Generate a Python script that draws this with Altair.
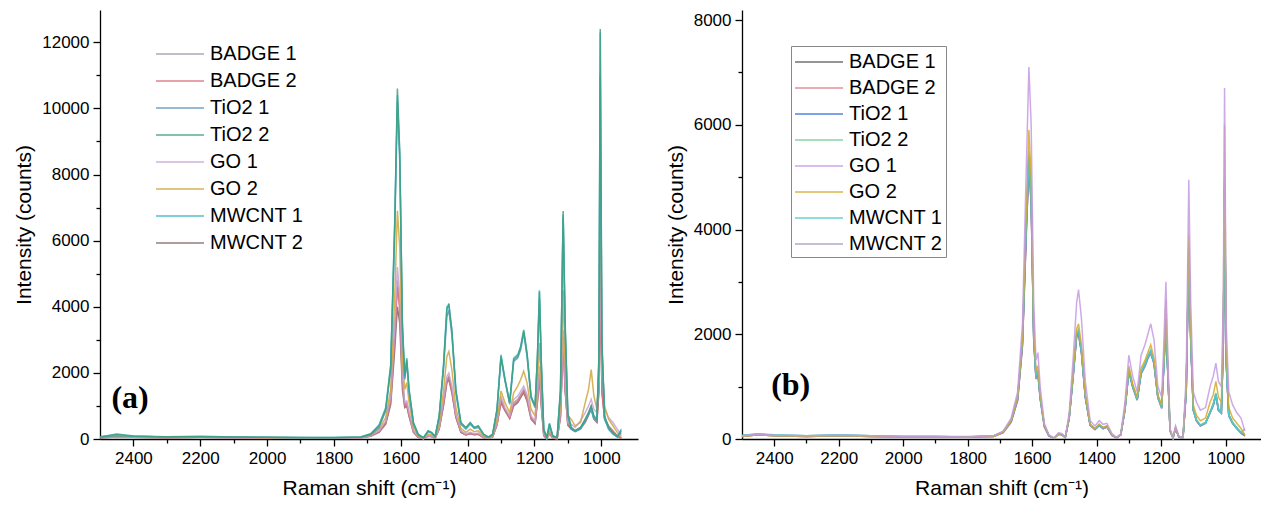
import altair as alt
import pandas as pd

# Raman shift grid (cm-1), descending
SHIFT = [
    2500, 2450, 2400, 2300, 2200, 2100, 2000, 1900, 1800, 1720,
    1690, 1665, 1645, 1630, 1618, 1610, 1603, 1595, 1588, 1582,
    1575, 1562, 1548, 1532, 1518, 1508, 1497, 1485, 1472, 1462,
    1456, 1447, 1435, 1420, 1405, 1392, 1380, 1368, 1352, 1338,
    1325, 1312, 1300, 1288, 1274, 1262, 1250, 1241, 1232, 1222,
    1210, 1198, 1191, 1185, 1179, 1172, 1163, 1155, 1145, 1132,
    1122, 1114, 1108, 1100, 1090, 1078, 1062, 1048, 1038, 1030,
    1022, 1013, 1007, 1003, 998, 990, 978, 965, 952, 940,
]

SERIES = ["BADGE 1", "BADGE 2", "TiO2 1", "TiO2 2", "GO 1", "GO 2", "MWCNT 1", "MWCNT 2"]

# ---------------- panel (a) ----------------
A_BADGE_1 = [40, 60, 50, 40, 50, 40, 30, 30, 30, 40,
             90, 230, 500, 1200, 3200, 4800, 4100, 1800, 1050, 1100,
             750, 230, 60, 10, 90, 80, 30, 320, 1100, 1800,
             1900, 1500, 700, 220, 130, 180, 140, 160, 50, 20,
             70, 450, 1200, 900, 650, 1100, 1200, 1350, 1500, 1250,
             650, 500, 1200, 2000, 1050, 120, 10, 180, 30, 10,
             700, 3000, 1500, 450, 350, 250, 350, 550, 800, 1000,
             650, 550, 1500, 5000, 1500, 650, 400, 250, 100, 20]
A_BADGE_2 = [40, 60, 50, 40, 50, 40, 30, 30, 30, 40,
             90, 220, 480, 1150, 3000, 4600, 3900, 1700, 1000, 1050,
             700, 220, 60, 10, 90, 80, 30, 300, 1050, 1750,
             1850, 1450, 680, 210, 120, 170, 130, 150, 50, 20,
             70, 430, 1150, 880, 630, 1050, 1150, 1300, 1450, 1200,
             620, 480, 1150, 1950, 1000, 110, 10, 170, 30, 10,
             680, 2900, 1450, 430, 330, 240, 330, 520, 750, 950,
             620, 520, 1400, 4600, 1400, 620, 380, 230, 90, 20]
A_TIO2_1 = [50, 100, 80, 60, 70, 50, 50, 40, 40, 50,
            130, 350, 850, 2100, 6200, 10200, 8400, 3300, 1800, 2300,
            1400, 450, 120, 30, 220, 180, 70, 650, 2100, 3700,
            3900, 3150, 1400, 450, 300, 450, 320, 350, 130, 50,
            130, 850, 2450, 1750, 1050, 2350, 2450, 2700, 3200, 2500,
            1250, 950, 2400, 4250, 2100, 250, 40, 400, 80, 40,
            1400, 6700, 3300, 700, 300, 220, 300, 550, 750, 950,
            650, 550, 2300, 11000, 2800, 650, 300, 150, 60, 200]
A_TIO2_2 = [60, 150, 90, 70, 80, 60, 50, 50, 40, 60,
            150, 400, 900, 2200, 6500, 10600, 8700, 3500, 1900, 2400,
            1500, 500, 150, 40, 250, 200, 80, 700, 2200, 3900,
            4100, 3300, 1500, 500, 350, 500, 350, 400, 150, 60,
            150, 900, 2500, 1800, 1100, 2400, 2500, 2800, 3300, 2600,
            1300, 1000, 2500, 4450, 2200, 300, 50, 450, 100, 50,
            1500, 6900, 3500, 800, 350, 250, 350, 600, 800, 1000,
            700, 600, 2500, 12400, 3000, 700, 350, 200, 80, 250]
A_GO_1 = [50, 70, 60, 50, 50, 40, 40, 40, 30, 40,
          100, 250, 550, 1300, 3400, 5200, 4400, 1900, 1100, 1150,
          800, 250, 70, 10, 100, 90, 30, 350, 1200, 1900,
          2000, 1600, 750, 250, 150, 200, 160, 180, 60, 20,
          80, 500, 1300, 950, 700, 1200, 1300, 1450, 1600, 1350,
          700, 550, 1300, 2200, 1150, 150, 20, 200, 40, 20,
          800, 3300, 1700, 500, 450, 350, 550, 800, 1000, 1200,
          900, 800, 1800, 6000, 2000, 900, 650, 500, 300, 100]
A_GO_2 = [50, 80, 60, 50, 60, 50, 40, 40, 40, 50,
          120, 300, 650, 1500, 4300, 6900, 5800, 2400, 1500, 1700,
          1100, 350, 100, 20, 150, 120, 50, 450, 1450, 2500,
          2650, 2100, 950, 320, 200, 300, 220, 250, 90, 30,
          100, 600, 1450, 1100, 800, 1400, 1600, 1800, 2050, 1700,
          900, 700, 1700, 2900, 1500, 200, 30, 250, 60, 30,
          1000, 4500, 2300, 700, 600, 400, 500, 1100, 1500, 2100,
          1300, 900, 2000, 9200, 2500, 1000, 600, 400, 200, 50]
A_MWCNT_1 = [70, 130, 80, 60, 70, 60, 50, 40, 50, 60,
             160, 420, 950, 2250, 6600, 10400, 8600, 3400, 1850, 2450,
             1450, 480, 140, 40, 240, 190, 80, 690, 2250, 4000,
             4050, 3250, 1450, 480, 330, 480, 340, 380, 140, 60,
             140, 880, 2550, 1800, 1100, 2450, 2550, 2800, 3250, 2550,
             1250, 1000, 2450, 4500, 2200, 280, 50, 480, 90, 50,
             1450, 6800, 3400, 750, 320, 240, 330, 580, 780, 900,
             600, 580, 2400, 12300, 2900, 600, 300, 150, 60, 300]
A_MWCNT_2 = [40, 60, 50, 40, 50, 40, 30, 30, 30, 40,
             80, 200, 450, 1050, 2700, 4000, 3500, 1500, 950, 1000,
             680, 200, 50, 10, 80, 70, 30, 300, 1000, 1700,
             1800, 1400, 650, 200, 120, 160, 130, 140, 40, 20,
             60, 420, 1100, 850, 620, 1000, 1100, 1250, 1400, 1150,
             600, 460, 1100, 1900, 950, 100, 10, 160, 30, 10,
             650, 3100, 1500, 420, 300, 230, 320, 500, 720, 900,
             600, 500, 1600, 5600, 1500, 600, 350, 200, 80, 20]

# ---------------- panel (b) ----------------
B_BADGE_1 = [50, 80, 60, 50, 60, 50, 40, 40, 40, 50,
             120, 330, 750, 1800, 4000, 5200, 4500, 1900, 1150, 1250,
             780, 240, 60, 15, 90, 80, 30, 400, 1250, 1950,
             2000, 1650, 800, 260, 180, 260, 200, 230, 70, 20,
             80, 560, 1300, 1000, 750, 1250, 1400, 1550, 1650, 1450,
             800, 600, 1450, 2200, 1250, 150, 20, 200, 40, 20,
             900, 3600, 1900, 550, 350, 250, 300, 500, 650, 850,
             550, 500, 1800, 4800, 1500, 450, 300, 200, 120, 60]
B_BADGE_2 = [50, 80, 60, 50, 60, 50, 40, 40, 40, 50,
             120, 320, 740, 1780, 3950, 5300, 4550, 1900, 1150, 1240,
             770, 230, 60, 15, 90, 80, 30, 390, 1240, 1980,
             2030, 1660, 800, 260, 180, 260, 200, 230, 70, 20,
             80, 550, 1290, 990, 740, 1250, 1390, 1540, 1640, 1440,
             790, 590, 1430, 2180, 1240, 150, 20, 200, 40, 20,
             890, 3550, 1880, 540, 340, 250, 300, 500, 640, 840,
             540, 490, 1750, 4700, 1450, 440, 300, 200, 110, 60]
B_TIO2_1 = [60, 90, 70, 60, 70, 60, 50, 50, 40, 60,
            130, 340, 780, 1850, 4100, 5400, 4650, 1950, 1200, 1300,
            800, 250, 65, 15, 95, 85, 35, 410, 1280, 2000,
            2050, 1680, 820, 270, 190, 270, 210, 240, 75, 25,
            85, 570, 1320, 1010, 760, 1270, 1420, 1570, 1680, 1470,
            810, 610, 1460, 2250, 1270, 160, 25, 210, 45, 25,
            920, 3650, 1920, 560, 360, 260, 310, 510, 660, 860,
            560, 510, 1820, 4900, 1520, 460, 310, 210, 120, 80]
B_TIO2_2 = [60, 100, 70, 60, 70, 60, 50, 50, 40, 60,
            140, 360, 800, 1900, 4200, 5500, 4700, 2000, 1220, 1320,
            820, 260, 70, 15, 100, 90, 35, 420, 1300, 2050,
            2100, 1720, 840, 280, 200, 280, 220, 250, 80, 25,
            90, 580, 1350, 1030, 770, 1290, 1450, 1600, 1700, 1490,
            820, 620, 1500, 2300, 1300, 160, 25, 220, 50, 25,
            940, 3700, 1950, 570, 370, 270, 320, 520, 680, 880,
            580, 520, 1900, 4700, 1550, 470, 320, 220, 130, 90]
B_GO_1 = [60, 90, 70, 60, 70, 60, 50, 50, 40, 60,
          150, 400, 900, 2200, 5200, 7100, 6000, 2600, 1500, 1650,
          1000, 300, 80, 20, 120, 100, 40, 500, 1600, 2600,
          2850, 2300, 1100, 350, 250, 350, 280, 300, 100, 30,
          100, 700, 1600, 1200, 900, 1600, 1800, 2000, 2200, 1900,
          1000, 800, 1900, 3000, 1600, 200, 30, 250, 60, 30,
          1200, 4950, 2600, 900, 700, 550, 600, 1000, 1200, 1450,
          1100, 1000, 2600, 6700, 2200, 900, 650, 500, 400, 150]
B_GO_2 = [50, 80, 60, 50, 60, 50, 40, 40, 40, 50,
          130, 350, 800, 1900, 4400, 5900, 5000, 2100, 1300, 1400,
          850, 260, 70, 15, 100, 90, 35, 420, 1350, 2100,
          2200, 1800, 850, 280, 200, 280, 220, 250, 80, 25,
          90, 600, 1400, 1050, 800, 1350, 1500, 1650, 1800, 1550,
          850, 650, 1600, 2650, 1400, 170, 25, 220, 50, 25,
          1000, 3900, 2100, 650, 450, 350, 400, 700, 850, 1100,
          800, 700, 2200, 6000, 1800, 600, 400, 300, 200, 80]
B_MWCNT_1 = [70, 100, 80, 60, 80, 60, 50, 50, 50, 60,
             140, 350, 800, 1880, 4150, 5350, 4600, 1950, 1200, 1300,
             800, 250, 70, 15, 95, 85, 35, 410, 1270, 2000,
             2050, 1680, 820, 270, 190, 270, 210, 240, 75, 25,
             85, 570, 1310, 1000, 760, 1260, 1410, 1560, 1670, 1460,
             800, 600, 1450, 2230, 1260, 150, 20, 200, 40, 20,
             910, 3600, 1900, 550, 350, 260, 300, 500, 650, 850,
             550, 500, 1800, 5000, 1500, 450, 300, 200, 120, 200]
B_MWCNT_2 = [50, 80, 60, 50, 60, 50, 40, 40, 40, 50,
             120, 320, 730, 1760, 3900, 5250, 4500, 1880, 1140, 1230,
             760, 230, 60, 15, 90, 80, 30, 390, 1230, 1950,
             2000, 1640, 790, 260, 180, 260, 200, 230, 70, 20,
             80, 550, 1280, 980, 740, 1240, 1380, 1530, 1630, 1430,
             780, 580, 1420, 2150, 1230, 150, 20, 200, 40, 20,
             880, 3550, 1870, 540, 340, 250, 300, 500, 640, 840,
             540, 490, 1750, 4800, 1450, 440, 300, 200, 110, 60]

COLORS_A = ["#9c9cac", "#d9707a", "#5b93bb", "#3f9f7f", "#c7a3d6", "#cfa63c", "#35b6c4", "#7f6767"]
COLORS_B = ["#5a5a5a", "#e07c84", "#3a6fd8", "#72cd94", "#c59ae4", "#d6a92b", "#4ec9d2", "#a898bc"]

X_MAJOR = [1000, 1200, 1400, 1600, 1800, 2000, 2200, 2400]
X_MINOR = [1100, 1300, 1500, 1700, 1900, 2100, 2300]

FONT = "Liberation Sans"


def to_frame(pairs):
    rows = []
    for name, vals in pairs:
        for x, v in zip(SHIFT, vals):
            rows.append({"shift": x, "intensity": v, "series": name})
    return pd.DataFrame(rows)


# drawing order (last drawn on top)
df_a = to_frame([("MWCNT 2", A_MWCNT_2), ("BADGE 1", A_BADGE_1), ("BADGE 2", A_BADGE_2),
                 ("GO 1", A_GO_1), ("GO 2", A_GO_2), ("TiO2 1", A_TIO2_1),
                 ("MWCNT 1", A_MWCNT_1), ("TiO2 2", A_TIO2_2)])
df_b = to_frame([("BADGE 1", B_BADGE_1), ("BADGE 2", B_BADGE_2), ("MWCNT 2", B_MWCNT_2),
                 ("TiO2 1", B_TIO2_1), ("TiO2 2", B_TIO2_2), ("MWCNT 1", B_MWCNT_1),
                 ("GO 2", B_GO_2), ("GO 1", B_GO_1)])


def panel(df, colors, ymax, ymajor, yminor, width, height, legend, label, lx, ly):
    xscale = alt.Scale(domain=[890, 2500], reverse=True, nice=False, zero=False)
    yscale = alt.Scale(domain=[0, ymax], nice=False, zero=True)
    lines = alt.Chart(df).mark_line(strokeWidth=1.5, opacity=0.85).encode(
        x=alt.X("shift:Q", scale=xscale,
                axis=alt.Axis(values=X_MAJOR, title="Raman shift (cm⁻¹)", format="d",
                              orient="bottom", titlePadding=11)),
        y=alt.Y("intensity:Q", scale=yscale,
                axis=alt.Axis(values=ymajor, title="Intensity (counts)", format="d",
                              orient="left")),
        color=alt.Color("series:N", scale=alt.Scale(domain=SERIES, range=colors), legend=legend),
    )
    minor = alt.Chart(df).mark_line(opacity=0).encode(
        x=alt.X("shift:Q", scale=xscale,
                axis=alt.Axis(values=X_MINOR, labels=False, domain=False, tickSize=4,
                              title=None, orient="bottom")),
        y=alt.Y("intensity:Q", scale=yscale,
                axis=alt.Axis(values=yminor, labels=False, domain=False, tickSize=4,
                              title=None, orient="left")),
        detail="series:N",
    )
    tag_df = pd.DataFrame({"tag": [label], "sx": [lx], "sy": [ly]})
    tag = alt.Chart(tag_df).mark_text(
        font="Liberation Serif", fontWeight="bold", fontSize=32,
        align="center", baseline="middle", color="black",
    ).encode(
        x=alt.X("sx:Q", scale=xscale, axis=None),
        y=alt.Y("sy:Q", scale=yscale, axis=None),
        text="tag:N",
    )
    return alt.layer(lines, minor, tag).resolve_axis(x="independent", y="independent").properties(
        width=width, height=height)


legend_a = alt.Legend(orient="none", legendX=55, legendY=31, title=None,
                      symbolType="M-2,0H2", symbolSize=576, symbolStrokeWidth=1.5,
                      symbolOffset=12, labelOffset=17, labelFontSize=20, labelFont=FONT,
                      labelColor="black", rowPadding=4, padding=0)
legend_b = alt.Legend(orient="none", legendX=49, legendY=36, title=None,
                      symbolType="M-2,0H2", symbolSize=576, symbolStrokeWidth=1.5,
                      symbolOffset=12, labelOffset=17, labelFontSize=20, labelFont=FONT,
                      labelColor="black", rowPadding=3, padding=3,
                      strokeColor="#888888", fillColor="white")

left = panel(df_a, COLORS_A, 12977, [0, 2000, 4000, 6000, 8000, 10000, 12000],
             [1000, 3000, 5000, 7000, 9000, 11000], 538, 429, legend_a, "(a)", 2410, 1240)
right = panel(df_b, COLORS_B, 8191, [0, 2000, 4000, 6000, 8000],
              [1000, 3000, 5000, 7000], 519, 429, legend_b, "(b)", 2349, 1031)

chart = alt.hconcat(left, right, spacing=27).resolve_scale(color="independent").properties(
    padding={"left": 13, "top": 10, "right": 0, "bottom": 0}
).configure_view(stroke=None).configure_axis(
    labelFont=FONT, titleFont=FONT, labelFontSize=17, titleFontSize=21,
    labelColor="black", titleColor="black", domainColor="black", tickColor="black",
    tickSize=7, labelPadding=4, titlePadding=7, titleFontWeight="normal", grid=False,
    domainWidth=1.3, tickWidth=1.3,
)

chart.save("out.html", embed_options={"renderer": "svg", "actions": False})
